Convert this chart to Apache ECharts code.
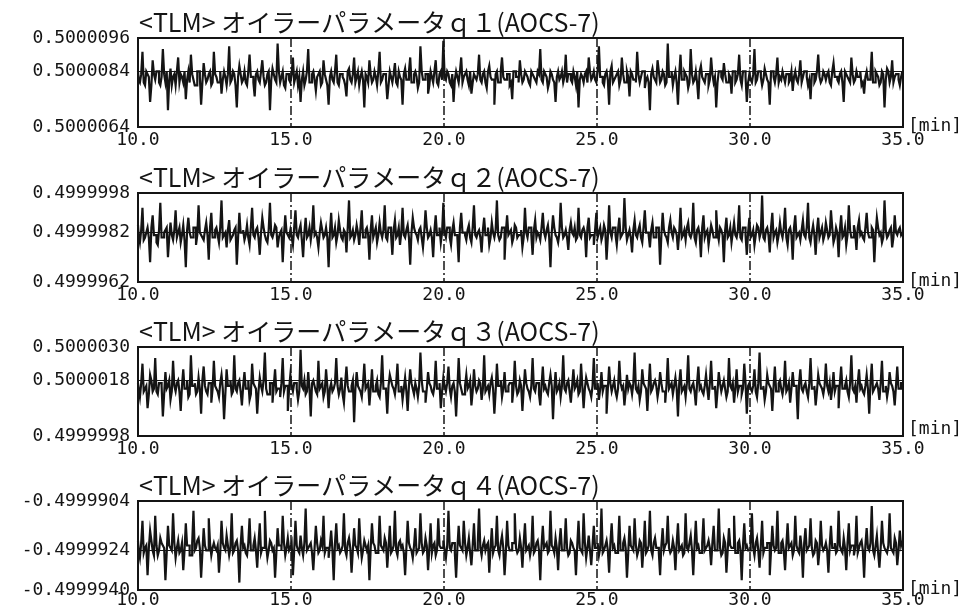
<!DOCTYPE html>
<html>
<head>
<meta charset="utf-8">
<script src="https://cdn.jsdelivr.net/npm/echarts@6/dist/echarts.min.js"></script>
<style>
  html, body { margin: 0; padding: 0; background: #fff; }
  #chart { width: 971px; height: 609px; }
</style>
</head>
<body>
<div id="chart"></div>
<script>
// Euler parameter telemetry q1..q4 (AOCS-7), 10.0 - 35.0 min, one sample every 2.5 s.
// Samples are stored as counts of 1e-7 relative to each channel's base value.
const T0 = 10.0;          // start time [min]
const DT = 2.5 / 60;      // sample spacing [min]
const LSB = 1e-7;

const titles = [
  '<TLM> オイラーパラメータｑ１(AOCS-7)',
  '<TLM> オイラーパラメータｑ２(AOCS-7)',
  '<TLM> オイラーパラメータｑ３(AOCS-7)',
  '<TLM> オイラーパラメータｑ４(AOCS-7)'
];
const bases = [0.5, 0.49999, 0.5, -0.5];
// y scale in counts: [bottom, reference line, top]
const yBottom = [64, 62, -2, 60];
const yRef    = [84, 82, 18, 76];
const yTop    = [96, 98, 30, 96];
const xTicks  = [10, 15, 20, 25, 30, 35];

const q1 = [
  84,81,80,83,91,80,79,84,83,82,73,79,88,83,81,84,84,80,79,82,92,83,80,84,70,81,85,79,82,83,
  79,84,89,80,83,82,80,84,74,81,84,80,90,83,81,79,79,84,84,82,72,80,87,83,80,81,83,84,79,80,
  91,83,82,80,80,84,76,81,84,82,79,83,93,80,81,84,83,79,71,82,86,83,80,81,84,80,79,84,90,82,
  82,80,75,83,84,81,80,84,88,82,79,80,83,84,70,81,85,83,81,80,94,84,80,82,84,79,78,83,83,81,
  80,83,89,80,82,84,79,82,73,81,84,79,81,84,92,80,80,83,84,81,77,82,83,84,79,80,88,83,81,79,
  72,82,84,81,80,84,90,80,79,83,83,82,81,79,75,84,85,81,80,83,89,80,82,84,79,82,84,81,71,83,
  82,80,88,83,80,81,84,82,79,84,91,80,81,83,83,81,74,79,84,82,80,83,87,80,79,84,82,81,72,83,
  85,81,81,84,89,80,80,83,84,82,78,80,93,84,81,81,83,83,76,79,84,82,80,84,88,80,79,83,84,81,
  95,82,81,84,83,80,79,83,73,81,84,82,80,84,89,80,82,83,84,81,79,84,76,80,83,82,81,83,90,81,
  80,83,84,80,78,84,86,82,81,81,72,83,84,80,80,84,89,82,81,81,83,83,79,80,74,84,84,82,82,80,
  88,83,80,81,84,83,82,80,79,84,83,82,81,80,84,83,92,81,80,84,83,82,78,80,84,83,81,80,73,82,
  84,81,82,84,80,82,90,80,83,83,81,80,84,82,79,84,71,81,83,82,80,83,84,80,89,84,81,82,84,81,
  80,84,93,82,82,80,79,83,84,81,72,84,86,80,81,82,83,84,79,81,89,83,80,80,84,82,75,84,83,81,
  81,80,91,83,80,82,84,84,78,81,82,80,70,83,85,82,81,80,88,84,80,81,84,83,79,80,94,82,82,84,
  79,82,84,80,72,83,90,81,81,84,83,82,78,80,92,83,80,81,84,80,74,84,86,82,81,80,83,83,79,81,
  89,83,80,82,71,80,84,84,82,81,87,83,80,80,83,82,76,84,84,80,81,83,90,81,79,84,84,82,73,80,
  83,81,80,83,92,80,81,84,84,82,79,81,85,83,81,80,72,84,84,82,80,83,89,80,82,81,84,82,80,83,
  83,80,81,84,77,82,84,81,80,83,88,80,82,84,84,82,79,81,74,83,83,80,81,84,90,82,80,81,84,83,
  81,83,84,80,79,84,87,82,82,81,80,83,84,80,73,84,83,82,81,80,89,83,80,81,84,82,82,84,79,80,
  76,82,84,81,81,83,91,80,80,84,83,82,79,80,84,83,71,81,85,84,80,82,88,80,82,83,83,81,79,82,
  84];

const q2 = [
  85,81,78,83,92,79,80,82,84,80,70,84,89,81,81,78,77,83,94,80,80,82,83,84,72,80,86,81,79,83,
  91,80,82,84,78,81,85,79,68,83,88,82,80,80,84,84,77,81,93,82,81,80,79,83,86,81,71,84,90,80,
  80,83,84,81,78,84,95,80,81,82,76,83,87,79,80,81,83,84,69,80,90,82,82,83,79,81,85,80,77,84,
  92,81,80,83,84,80,73,82,88,84,81,79,78,83,94,81,80,82,85,84,76,80,82,83,70,81,89,82,81,80,
  83,80,77,84,91,81,80,83,85,79,72,82,88,80,81,84,79,83,93,81,82,80,76,82,86,83,80,81,84,80,
  68,82,90,80,81,84,78,81,87,83,80,79,83,82,74,84,95,80,81,83,79,81,85,82,77,84,91,80,80,83,
  84,81,71,83,89,80,82,84,78,81,86,82,80,83,93,80,79,84,84,81,73,83,87,80,81,84,77,82,92,81,
  80,83,85,80,69,82,88,84,82,81,79,83,84,80,76,82,91,84,80,81,83,80,72,83,89,81,81,84,78,82,
  94,82,80,84,84,80,77,83,86,81,81,80,70,84,90,82,82,81,79,83,85,80,78,84,93,81,80,82,83,80,
  74,83,88,81,81,84,77,80,86,82,80,83,95,81,79,80,84,84,71,82,89,81,82,83,78,80,85,84,80,81,
  81,83,76,80,92,82,80,84,84,81,73,83,87,80,82,81,79,84,90,82,80,83,85,80,68,82,89,84,81,80,
  78,82,94,84,80,81,83,80,75,83,86,82,81,84,79,80,92,81,80,83,84,82,72,84,88,80,81,81,77,83,
  90,80,82,84,79,81,85,83,71,80,93,82,80,84,84,81,77,83,88,80,81,82,96,84,79,81,83,80,74,83,
  87,81,80,83,85,80,78,84,91,82,82,81,76,83,86,80,80,84,84,82,69,81,90,83,81,80,78,84,87,82,
  80,84,83,81,75,82,92,80,81,83,79,84,86,81,80,82,94,80,78,83,84,81,72,84,89,80,82,83,77,81,
  85,83,80,80,91,82,79,84,83,81,70,83,88,80,81,84,78,82,86,81,80,83,93,80,79,84,84,81,73,82,
  88,80,81,83,77,81,85,84,80,82,97,80,79,83,84,81,74,84,90,80,82,83,78,81,86,82,80,84,92,80,
  77,83,84,81,71,84,89,80,81,82,79,83,87,81,80,84,94,80,78,82,85,81,73,83,88,80,82,84,79,81,
  86,83,80,81,91,84,78,80,84,82,72,83,89,80,81,84,77,81,93,83,80,80,85,82,75,84,87,81,82,80,
  79,84,90,82,80,80,84,83,70,81,88,84,81,82,78,80,95,83,80,81,83,84,76,80,89,82,81,83,84,81,
  82];

const q3 = [
  17,15,12,17,24,14,15,16,8,13,20,18,14,15,26,14,13,17,17,16,5,13,21,15,16,18,11,14,25,16,
  14,17,18,14,7,16,22,15,15,18,12,13,27,16,16,17,13,14,19,15,6,18,23,16,14,13,17,17,10,15,
  25,16,15,14,12,17,20,15,4,13,22,16,16,18,13,14,27,15,14,17,18,14,9,16,21,15,15,18,11,13,
  24,17,16,15,6,14,19,16,14,18,28,15,13,13,17,17,10,16,22,14,15,15,12,17,26,14,16,16,7,15,
  20,16,14,17,17,15,11,14,29,16,15,18,13,14,21,15,5,17,18,16,14,13,25,15,16,17,12,14,22,16,
  8,15,17,14,15,17,26,16,13,15,19,13,10,17,23,16,14,14,16,18,3,15,21,16,15,14,12,17,24,15,
  16,17,9,15,22,14,14,16,18,13,12,17,27,15,15,14,6,16,20,18,16,15,13,17,24,14,14,16,11,15,
  19,14,7,16,22,17,15,13,17,15,12,16,28,18,14,14,10,15,21,17,16,14,13,16,25,15,15,17,8,14,
  19,16,14,17,23,15,12,16,17,14,5,15,26,17,15,13,13,16,20,15,16,18,9,14,22,16,14,15,18,17,
  11,15,27,14,15,16,13,17,19,15,6,14,24,16,16,18,12,15,21,14,14,16,17,17,10,15,25,16,13,14,
  18,16,7,15,22,17,15,14,12,16,26,15,14,17,17,13,9,16,23,15,16,14,13,17,20,16,4,15,21,14,
  15,17,12,16,27,15,14,17,18,14,10,16,22,15,16,18,13,14,24,16,8,15,19,17,15,14,12,16,26,15,
  15,17,11,15,21,14,16,16,6,15,23,17,14,16,18,14,12,15,25,17,15,16,9,14,20,15,17,16,13,17,
  28,15,14,16,11,14,22,17,16,15,7,16,24,14,15,17,18,16,12,15,21,17,14,14,10,16,26,15,16,17,
  13,16,19,15,5,17,22,14,15,16,12,17,27,15,14,16,17,14,9,17,23,15,16,14,13,16,20,15,11,17,
  25,15,15,16,8,14,21,17,14,16,18,15,12,14,26,16,15,17,10,15,22,14,16,16,13,15,24,17,6,16,
  17,15,14,16,22,14,12,17,28,15,15,16,11,14,20,17,16,15,7,16,23,14,14,17,18,15,13,16,25,14,
  15,17,10,15,21,16,16,14,4,17,22,15,14,16,17,14,12,17,26,15,15,16,9,14,20,17,16,15,13,16,
  24,16,14,17,11,15,21,14,16,16,8,17,23,15,15,16,18,14,12,17,27,15,14,16,10,17,22,15,16,14,
  13,16,20,15,6,17,24,14,15,16,17,15,11,17,25,14,14,16,12,15,21,17,16,14,9,16,23,15,15,17,
  17];

const q4 = [
  80,76,73,79,88,75,77,78,66,77,84,80,76,74,90,78,74,76,81,79,78,77,64,75,86,78,77,76,91,79,
  73,77,80,75,76,79,68,76,87,78,78,74,74,79,92,76,77,80,81,77,65,75,85,78,76,76,89,79,74,77,
  79,77,76,78,67,75,88,79,77,76,82,78,74,77,91,75,76,79,80,76,63,78,86,77,78,75,74,79,89,76,
  76,78,81,76,69,79,87,75,77,77,92,78,73,76,80,79,76,77,65,75,85,78,78,76,90,79,74,77,81,76,
  77,79,66,76,88,78,76,75,82,77,74,79,93,76,77,78,79,75,68,77,86,79,75,76,80,78,90,75,77,77,
  73,78,84,76,64,79,87,77,78,75,76,78,91,76,74,79,81,77,67,76,85,78,77,75,89,79,73,76,80,78,
  76,78,64,77,87,79,78,75,75,77,90,78,77,76,81,79,69,77,86,75,76,78,92,76,74,79,80,77,78,75,
  66,77,88,79,77,76,73,78,85,75,76,77,91,79,75,76,81,78,68,77,87,75,78,79,74,76,89,78,77,77,
  80,76,73,78,92,77,76,79,79,75,65,77,86,78,77,76,88,79,74,77,81,75,70,78,87,76,76,79,93,77,
  74,78,80,76,78,79,67,77,85,75,77,78,90,76,74,79,82,77,66,75,88,78,76,76,79,79,91,77,75,76,
  81,77,69,79,87,76,77,78,74,77,90,75,76,79,80,76,64,78,86,77,78,79,75,76,92,78,77,75,81,77,
  68,79,85,76,76,78,89,77,74,75,80,79,77,76,66,78,88,77,76,75,91,79,73,77,82,76,70,78,86,77,
  77,79,74,77,93,75,76,78,80,76,67,79,87,77,78,75,75,78,90,76,76,79,81,77,65,75,86,78,77,76,
  89,78,74,76,80,79,69,77,88,75,76,78,92,76,74,79,81,77,77,75,66,78,85,76,78,79,90,77,75,76,
  80,77,68,79,87,76,77,78,74,75,91,77,76,79,82,76,66,78,88,77,78,75,75,79,89,76,77,78,80,77,
  70,79,86,76,76,78,93,77,74,75,81,79,67,76,85,78,77,77,90,75,75,79,80,76,64,78,87,77,78,76,
  76,78,91,77,74,79,81,76,69,78,88,75,77,77,79,79,66,76,86,78,76,77,92,75,75,79,80,76,68,78,
  87,77,78,79,74,76,90,78,76,75,82,77,65,79,85,76,77,78,89,77,74,75,80,79,70,76,88,78,76,77,
  79,76,67,78,86,77,77,79,75,76,92,78,76,75,81,77,68,79,87,76,78,78,74,77,90,75,77,79,80,76,
  65,78,85,77,76,79,94,76,74,78,82,75,69,77,88,79,77,76,75,78,91,77,76,75,81,79,70,76,84,78,
  80];

const channels = [q1, q2, q3, q4];

// panel layout
const PANEL_TOP = [38, 193, 347, 501];
const PANEL_H = 89;
const LEFT = 138, RIGHT = 68;
const MONO = 'DejaVu Sans Mono';
const INK = '#141414';

const grid = [], xAxis = [], yAxis = [], series = [], title = [];

channels.forEach((vals, k) => {
  grid.push({
    left: LEFT, right: RIGHT, top: PANEL_TOP[k], height: PANEL_H,
    containLabel: false, outerBoundsMode: 'none',
    show: true, borderColor: INK, borderWidth: 2, backgroundColor: '#fff'
  });
  title.push({
    text: titles[k], left: 139, top: PANEL_TOP[k] - 28, padding: 0,
    textStyle: { fontFamily: 'Noto Sans CJK JP', fontSize: 25, fontWeight: 'normal', color: INK }
  });
  xAxis.push({
    type: 'value', gridIndex: k, min: xTicks[0], max: xTicks[xTicks.length - 1], interval: 5,
    name: '[min]', nameLocation: 'end', nameGap: 5, nameMoveOverlap: false,
    nameTextStyle: { fontFamily: MONO, fontSize: 18, color: INK, verticalAlign: 'bottom', padding: [0, 0, -8, 0] },
    axisLine: { show: false }, axisTick: { show: false },
    axisLabel: { fontFamily: MONO, fontSize: 18, color: INK, margin: k === 3 ? 1 : 4, formatter: v => v.toFixed(1) },
    splitLine: { show: true, lineStyle: { color: INK, width: 1.5, type: [9, 3, 2, 3] } }
  });
  yAxis.push({
    type: 'value', gridIndex: k, min: yBottom[k], max: yTop[k],
    axisLine: { show: false }, axisTick: { show: false }, splitLine: { show: false },
    axisLabel: {
      fontFamily: MONO, fontSize: 18, color: INK, margin: 8,
      customValues: [yBottom[k], yRef[k], yTop[k]],
      formatter: v => (bases[k] + v * LSB).toFixed(7)
    }
  });
  series.push({
    type: 'line', xAxisIndex: k, yAxisIndex: k,
    data: vals.map((v, i) => [T0 + i * DT, v]),
    step: 'middle', showSymbol: false, symbol: 'none',
    lineStyle: { color: INK, width: 2.2, join: 'miter' },
    clip: true, silent: true,
    markLine: {
      silent: true, symbol: 'none', label: { show: false },
      lineStyle: { color: INK, width: 1.2, type: 'solid' },
      data: [{ yAxis: yRef[k] }]
    }
  });
});

const chart = echarts.init(document.getElementById('chart'), null, { renderer: 'canvas' });
chart.setOption({
  animation: false,
  backgroundColor: '#fff',
  title, grid, xAxis, yAxis, series
});
</script>
</body>
</html>
